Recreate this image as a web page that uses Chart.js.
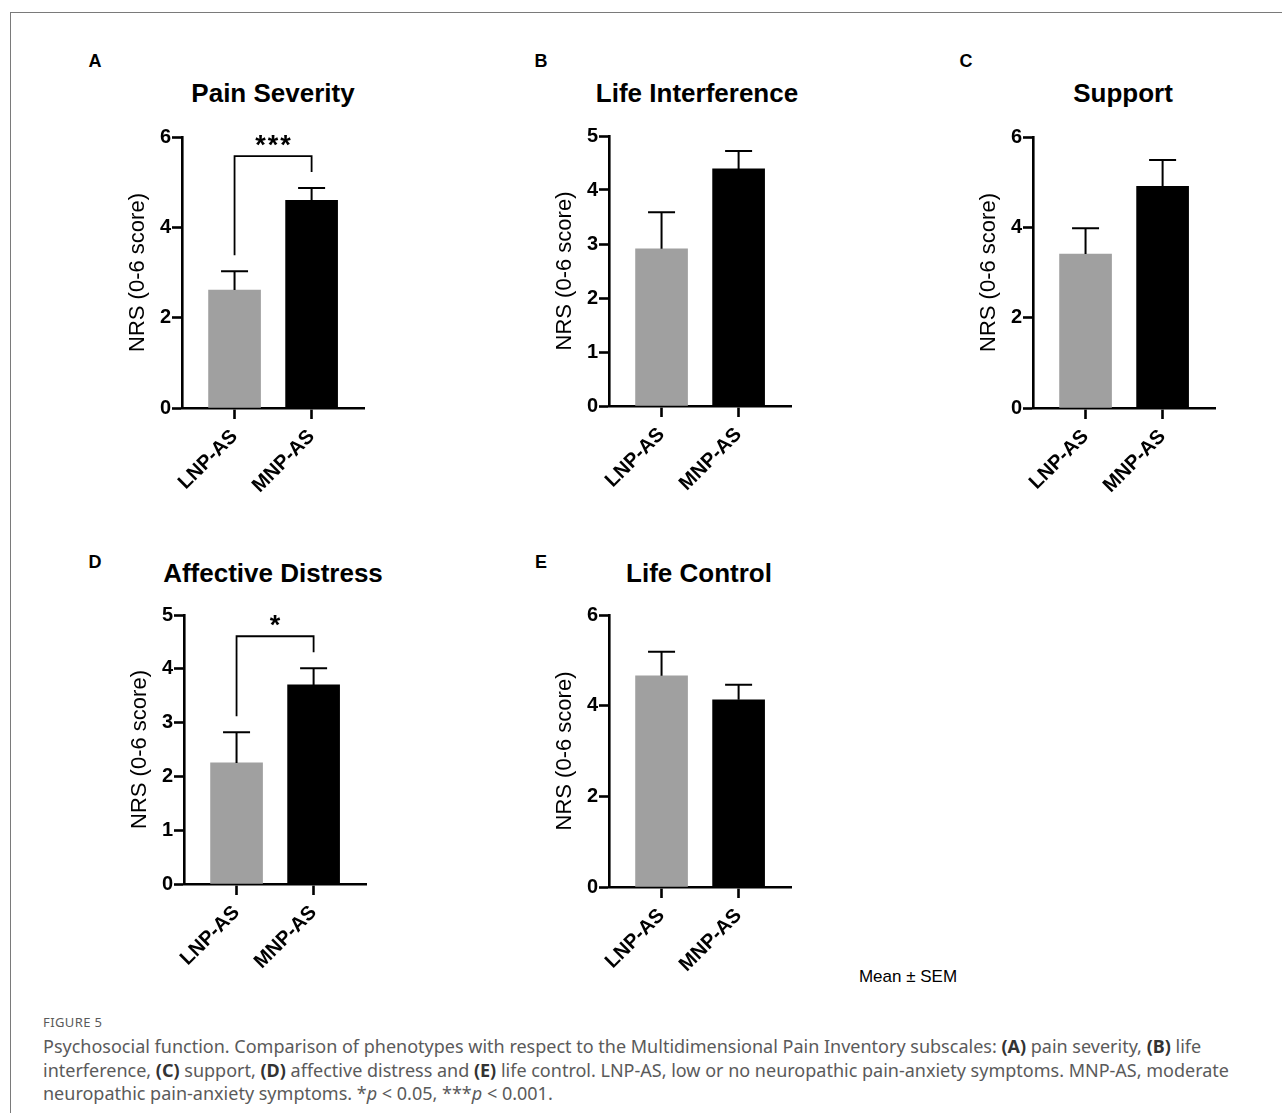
<!DOCTYPE html>
<html>
<head>
<meta charset="utf-8">
<script src="https://cdn.jsdelivr.net/npm/chart.js@4.4.1/dist/chart.umd.min.js"></script>
<style>
  body { margin: 0; background: #fff; width: 1282px; height: 1113px; position: relative; overflow: hidden; font-family: "Liberation Sans", Arial, sans-serif; }
  .frame { position: absolute; left: 10px; top: 12px; width: 1300px; height: 1200px; border-top: 1.5px solid #7a7a7a; border-left: 1.5px solid #7a7a7a; }
  canvas { position: absolute; }
  .lbl { position: absolute; transform: translate(-50%, -50%); line-height: 1; white-space: nowrap; color: #000; }
  .letter { font-weight: bold; font-size: 18px; }
  .ptitle { font-weight: bold; font-size: 26px; }
  .note { font-size: 17px; }
  .caption { position: absolute; left: 43px; font-family: "Noto Sans", sans-serif; color: #5a5a5a; white-space: nowrap; }
  .caption b { color: #333; }
  #figno { top: 1013px; font-size: 13px; letter-spacing: 0.4px; }
  #figtext { top: 1035px; font-size: 18px; line-height: 23.5px; }
</style>
</head>
<body>
<div class="frame"></div>
<div class="lbl note" style="left:908px; top:976px;">Mean ± SEM</div>
<div class="caption" id="figno">FIGURE 5</div>
<div class="caption" id="figtext">Psychosocial function. Comparison of phenotypes with respect to the Multidimensional Pain Inventory subscales: <b>(A)</b> pain severity, <b>(B)</b> life<br>interference, <b>(C)</b> support, <b>(D)</b> affective distress and <b>(E)</b> life control. LNP-AS, low or no neuropathic pain-anxiety symptoms. MNP-AS, moderate<br>neuropathic pain-anxiety symptoms. *<i>p</i> &lt; 0.05, ***<i>p</i> &lt; 0.001.</div>

<script>
// data
const groups = ['LNP-AS', 'MNP-AS'];
const panelLetters = ['A', 'B', 'C', 'D', 'E'];
const panelTitles = ['Pain Severity', 'Life Interference', 'Support', 'Affective Distress', 'Life Control'];
const lnpMeans = [2.61, 2.91, 3.41, 2.25, 4.66];
const lnpSem = [0.42, 0.68, 0.57, 0.57, 0.53];
const mnpMeans = [4.60, 4.39, 4.91, 3.70, 4.13];
const mnpSem = [0.27, 0.33, 0.58, 0.31, 0.33];
const yMax = [6, 5, 6, 5, 6];
const yStep = [2, 1, 2, 1, 2];
const sigLabels = ['***', null, null, '*', null];
const yTitle = 'NRS (0-6 score)';

// where each panel sits on the page
const boxes = [
    { axisX: 182, top: 137, h: 271, titleX: 273, titleY: 93, letterX: 95, letterY: 61 },
    { axisX: 609, top: 136, h: 270, titleX: 697, titleY: 93, letterX: 541, letterY: 61 },
    { axisX: 1033, top: 137, h: 271, titleX: 1123, titleY: 93, letterX: 966, letterY: 61 },
    { axisX: 184, top: 615, h: 269, titleX: 273, titleY: 573, letterX: 95, letterY: 562 },
    { axisX: 609, top: 615, h: 272, titleX: 699, titleY: 573, letterX: 541, letterY: 562 },
];
const leftW = 70, topPad = 15, plotW = 182, rightPad = 10, bottomH = 100;

const errorBars = {
    id: 'errorBars',
    afterDatasetsDraw(chart, args, opts) {
        const { ctx } = chart;
        const x = chart.scales.x, y = chart.scales.y;
        const pts = chart.data.datasets[0].data;
        ctx.save();
        ctx.strokeStyle = '#000';
        ctx.lineWidth = 2;
        const tops = [];
        pts.forEach((pt, i) => {
            const px = x.getPixelForValue(pt.x);
            const yMean = y.getPixelForValue(pt.y);
            const yTop = y.getPixelForValue(pt.y + opts.sem[i]);
            tops.push(yTop);
            ctx.beginPath();
            ctx.moveTo(px, yMean);
            ctx.lineTo(px, yTop);
            ctx.moveTo(px - 13.5, yTop);
            ctx.lineTo(px + 13.5, yTop);
            ctx.stroke();
        });
        if (opts.sig) {
            // significance bracket, legs start a little above each error bar
            const xl = x.getPixelForValue(pts[0].x);
            const xr = x.getPixelForValue(pts[1].x);
            const yl = tops[0] - 16, yr = tops[1] - 16;
            const yb = Math.min(yl, yr) - 16;
            ctx.lineWidth = 1.8;
            ctx.beginPath();
            ctx.moveTo(xl, yl);
            ctx.lineTo(xl, yb);
            ctx.lineTo(xr, yb);
            ctx.lineTo(xr, yr);
            ctx.stroke();
            ctx.fillStyle = '#000';
            ctx.font = 'bold 27px "Liberation Sans", Arial, sans-serif';
            ctx.letterSpacing = '2px';
            ctx.textAlign = 'center';
            ctx.textBaseline = 'alphabetic';
            ctx.fillText(opts.sig, (xl + xr) / 2 + 1, yb - 2);
        }
        ctx.restore();
    }
};

const addLabel = (cls, text, cx, cy) => {
    const d = document.createElement('div');
    d.className = 'lbl ' + cls;
    d.textContent = text;
    d.style.left = cx + 'px';
    d.style.top = cy + 'px';
    document.body.appendChild(d);
};

const tickFont = { family: '"Liberation Sans", Arial, sans-serif', size: 20, weight: 'bold' };

boxes.forEach((b, i) => {
    addLabel('letter', panelLetters[i], b.letterX, b.letterY);
    addLabel('ptitle', panelTitles[i], b.titleX, b.titleY);

    const canvas = document.createElement('canvas');
    const w = leftW + plotW + rightPad;
    const h = topPad + b.h + bottomH;
    canvas.width = w;
    canvas.height = h;
    canvas.style.width = w + 'px';
    canvas.style.height = h + 'px';
    canvas.style.left = (b.axisX - leftW) + 'px';
    canvas.style.top = (b.top - topPad) + 'px';
    document.body.appendChild(canvas);

    new Chart(canvas.getContext('2d'), {
        type: 'bar',
        data: {
            datasets: [{
                data: [{ x: 1, y: lnpMeans[i] }, { x: 2, y: mnpMeans[i] }],
                backgroundColor: ['#a0a0a0', '#000000'],
                borderWidth: 0,
                barThickness: 52,
            }]
        },
        options: {
            responsive: false,
            devicePixelRatio: 1,
            animation: false,
            layout: { padding: { top: topPad, right: rightPad, left: 0, bottom: 0 } },
            plugins: {
                legend: { display: false },
                tooltip: { enabled: false },
                errorBars: { sem: [lnpSem[i], mnpSem[i]], sig: sigLabels[i] },
            },
            scales: {
                x: {
                    type: 'linear',
                    min: 0.318,
                    max: 2.68,
                    offset: false,
                    z: 1,
                    afterBuildTicks: s => { s.ticks = groups.map((g, k) => ({ value: k + 1 })); },
                    afterFit: s => { s.height = bottomH; },
                    border: { display: true, color: '#000', width: 2.6 },
                    grid: { display: true, drawOnChartArea: false, drawTicks: true, tickLength: 11, tickWidth: 2.6, tickColor: '#000', offset: false },
                    ticks: {
                        minRotation: 45,
                        maxRotation: 45,
                        autoSkip: false,
                        padding: 6,
                        color: '#000',
                        font: tickFont,
                        callback: v => groups[Math.round(v) - 1],
                    },
                },
                y: {
                    min: 0,
                    max: yMax[i],
                    z: 1,
                    afterFit: s => { s.width = leftW; },
                    border: { display: true, color: '#000', width: 2.6 },
                    grid: { display: true, drawOnChartArea: false, drawTicks: true, tickLength: 10, tickWidth: 2.6, tickColor: '#000' },
                    ticks: { stepSize: yStep[i], padding: 1, color: '#000', font: tickFont },
                    title: {
                        display: true,
                        text: yTitle,
                        color: '#000',
                        font: { family: '"Liberation Sans", Arial, sans-serif', size: 22 },
                        padding: { top: 13, bottom: 0 },
                    },
                },
            },
        },
        plugins: [errorBars],
    });
});
</script>
</body>
</html>
